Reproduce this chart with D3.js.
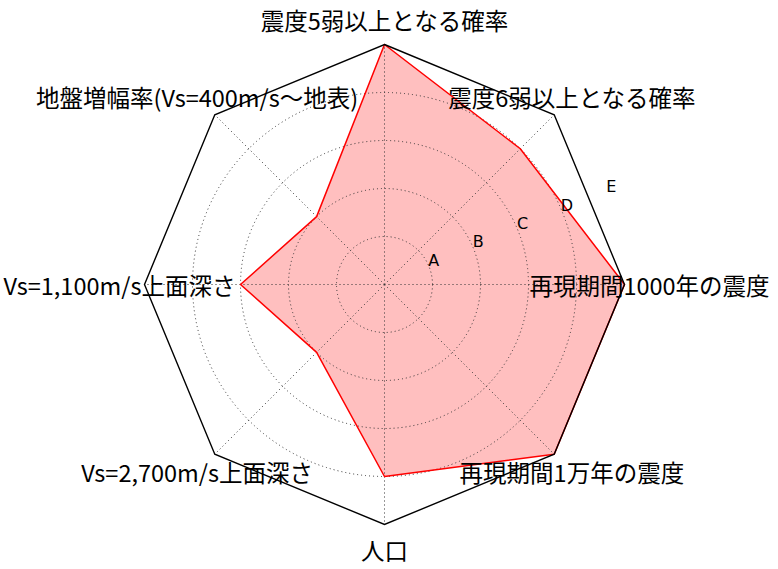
<!DOCTYPE html>
<html>
<head>
<meta charset="utf-8">
<script src="https://cdn.jsdelivr.net/npm/d3@7"></script>
<style>
  body { margin: 0; background: #fff; }
  svg { display: block; }
</style>
</head>
<body>
<svg width="778" height="569"></svg>
<script>
// 軸ラベル（上から時計回り）
const categories = [
    '震度5弱以上となる確率',
    '震度6弱以上となる確率',
    '再現期間1000年の震度',
    '再現期間1万年の震度',
    '人口',
    'Vs=2,700m/s上面深さ',
    'Vs=1,100m/s上面深さ',
    '地盤増幅率(Vs=400m/s～地表)'
];
// 評価値（1〜5）
const values = [5, 4, 5, 5, 4, 2, 3, 2];
// 目盛りラベル
const rTicks = [1, 2, 3, 4, 5];
const rTickLabels = ['A', 'B', 'C', 'D', 'E'];

const cx = 384.5, cy = 284.5, R = 240;
const svg = d3.select('svg');
const g = svg.append('g').attr('transform', `translate(${cx},${cy})`);

const r = d3.scaleLinear().domain([0, 5]).range([0, R]);
const angle = d3.scaleLinear().domain([0, categories.length]).range([0, 2 * Math.PI]);

const radial = d3.lineRadial()
    .angle((d, i) => angle(i))
    .radius(d => r(d))
    .curve(d3.curveLinearClosed);

//塗りつぶし
g.append('path')
    .datum(values)
    .attr('d', radial)
    .attr('fill', '#ffbfbf')
    .attr('stroke', 'none');

//グリッド（円）
g.selectAll('.ring')
    .data(rTicks.slice(0, -1))
    .enter()
    .append('circle')
    .attr('r', d => r(d))
    .attr('fill', 'none')
    .attr('stroke', '#333')
    .attr('stroke-width', 1)
    .attr('stroke-dasharray', '1,3');

//グリッド（放射線）
g.selectAll('.spoke')
    .data(categories)
    .enter()
    .append('line')
    .attr('x1', 0).attr('y1', 0)
    .attr('x2', (d, i) => r(5) * Math.sin(angle(i)))
    .attr('y2', (d, i) => -r(5) * Math.cos(angle(i)))
    .attr('stroke', '#333')
    .attr('stroke-width', 1)
    .attr('stroke-dasharray', '1,3');

//データ線
g.append('path')
    .datum(values)
    .attr('d', radial)
    .attr('fill', 'none')
    .attr('stroke', 'red')
    .attr('stroke-width', 1.5)
    .attr('stroke-linejoin', 'round');

//外枠（八角形）
g.append('path')
    .datum(categories.map(() => 5))
    .attr('d', radial)
    .attr('fill', 'none')
    .attr('stroke', '#000')
    .attr('stroke-width', 1.4);

//目盛りラベル
const la = Math.PI / 2 - Math.PI / 8;
g.selectAll('.rlabel')
    .data(rTicks)
    .enter()
    .append('text')
    .attr('x', d => r(d) * Math.sin(la) + 5)
    .attr('y', d => -r(d) * Math.cos(la) - 6)
    .attr('text-anchor', 'middle')
    .attr('dominant-baseline', 'central')
    .attr('font-family', 'DejaVu Sans')
    .attr('font-size', 16)
    .text((d, i) => rTickLabels[i]);

//軸ラベル
const lr = R + 25;
g.selectAll('.clabel')
    .data(categories)
    .enter()
    .append('text')
    .attr('x', (d, i) => lr * Math.sin(angle(i)))
    .attr('y', (d, i) => -lr * Math.cos(angle(i)))
    .attr('text-anchor', 'middle')
    .attr('dominant-baseline', 'central')
    .attr('font-family', '"Noto Sans CJK JP"')
    .attr('font-size', 23.5)
    .text(d => d);
</script>
</body>
</html>
